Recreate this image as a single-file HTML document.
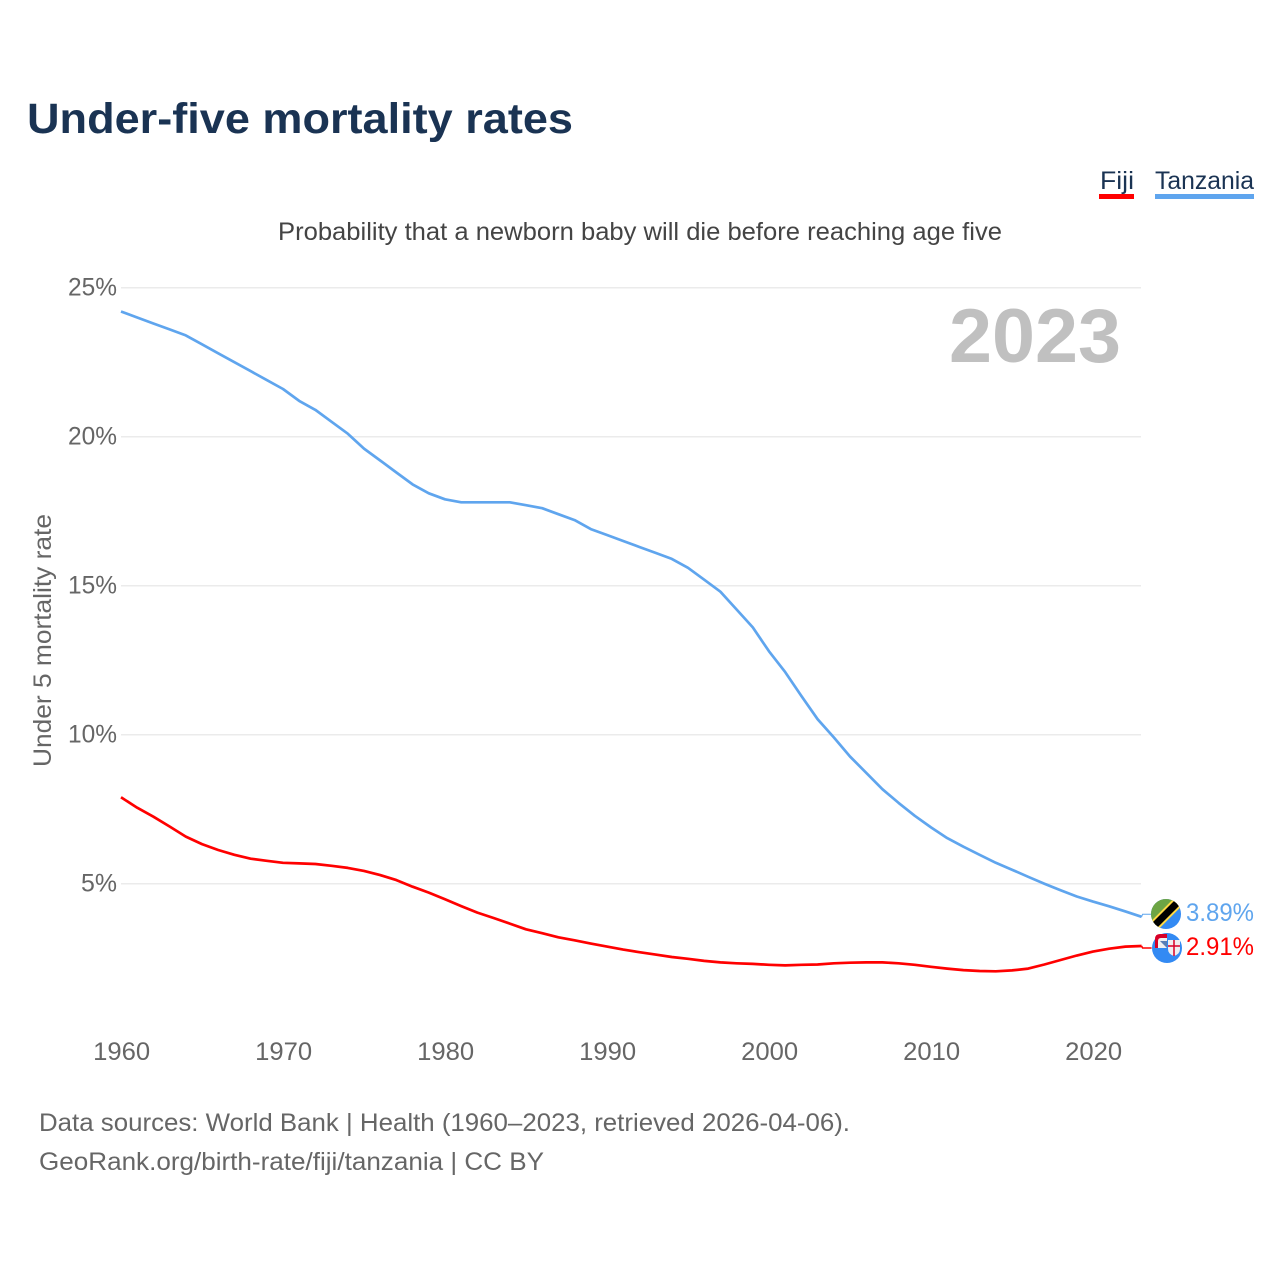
<!DOCTYPE html>
<html lang="en">
<head>
<meta charset="utf-8">
<title>Under-five mortality rates</title>
<style>
  html, body { margin: 0; padding: 0; background: #fff; }
  svg { display: block; font-family: "Liberation Sans", sans-serif; }
</style>
</head>
<body>
<svg id="chart" xmlns="http://www.w3.org/2000/svg" width="1280" height="1280" viewBox="0 0 1280 1280">
  <defs>
    <clipPath id="clip-tz"><circle cx="1166" cy="914" r="15"></circle></clipPath>
    <clipPath id="clip-fj"><circle cx="1167" cy="948" r="15"></circle></clipPath>
  </defs>
  <rect width="1280" height="1280" fill="#fff"></rect>

  <text x="27" y="133" font-size="43" font-weight="700" fill="#1a3353" textLength="546" lengthAdjust="spacingAndGlyphs">Under-five mortality rates</text>

  <g>
    <g>
      <text x="1100" y="189" font-size="25" fill="#1a3353" textLength="34" lengthAdjust="spacingAndGlyphs">Fiji</text>
      <rect x="1099" y="194" width="35" height="5" fill="#ff0000"></rect>
    </g>
    <g>
      <text x="1155" y="189" font-size="25" fill="#1a3353" textLength="99" lengthAdjust="spacingAndGlyphs">Tanzania</text>
      <rect x="1155" y="194" width="99" height="5" fill="#5fa5ee"></rect>
    </g>
  </g>

  <text x="278" y="240" font-size="25" fill="#444" textLength="724" lengthAdjust="spacingAndGlyphs">Probability that a newborn baby will die before reaching age five</text>

  <g id="grid"></g>
  <g id="ytick-labels"></g>
  <g id="xtick-labels"></g>

  <text transform="translate(51 767) rotate(-90)" x="0" y="0" font-size="25" fill="#666" textLength="253" lengthAdjust="spacingAndGlyphs">Under 5 mortality rate</text>

  <text x="949" y="362" font-size="76" font-weight="700" fill="#c0c0c0" textLength="172" lengthAdjust="spacingAndGlyphs">2023</text>

  <g id="series"></g>

  <g clip-path="url(#clip-tz)">
    <rect x="1150" y="898" width="32" height="32" fill="#338af3"></rect>
    <polygon points="1150,898 1182,898 1150,930" fill="#6da544"></polygon>
    <line x1="1152" y1="928" x2="1180" y2="900" stroke="#ffda44" stroke-width="11"></line>
    <line x1="1152" y1="928" x2="1180" y2="900" stroke="#000" stroke-width="7"></line>
  </g>

  <g>
    <circle cx="1167" cy="948" r="15" fill="#338af3"></circle>
    <path d="M1155 948v-9q0-5 5-5h7v14z" fill="#d80027"></path>
    <path d="M1158 948v-7q0-3 3-3h6v10z" fill="#f0f0f0"></path>
    <path d="M1160 941l7 7v-7z" fill="#5b7fb5"></path>
    <path d="M1168 940h12v9q0 5-6 7q-6-2-6-7z" fill="#f0f0f0"></path>
    <path d="M1174 940v16M1168 946h12" stroke="#d80027" stroke-width="1.500" fill="none"></path>
  </g>

  <g id="end-labels"></g>

  <text x="39" y="1131" font-size="25" fill="#666" textLength="811" lengthAdjust="spacingAndGlyphs">Data sources: World Bank | Health (1960–2023, retrieved 2026-04-06).</text>
  <text x="39" y="1170" font-size="25" fill="#666" textLength="505" lengthAdjust="spacingAndGlyphs">GeoRank.org/birth-rate/fiji/tanzania | CC BY</text>
</svg>

<script>
const firstYear = 1960;
const xTickYears = [1960, 1970, 1980, 1990, 2000, 2010, 2020];
const yTickValues = [5, 10, 15, 20, 25];
const tanzaniaValues = [
  24.2, 24.0, 23.8, 23.6, 23.4, 23.1, 22.8, 22.5, 22.2, 21.9,
  21.6, 21.2, 20.9, 20.5, 20.1, 19.6, 19.2, 18.8, 18.4, 18.1,
  17.9, 17.8, 17.8, 17.8, 17.8, 17.7, 17.6, 17.4, 17.2, 16.9,
  16.7, 16.5, 16.3, 16.1, 15.9, 15.6, 15.2, 14.8, 14.2, 13.6,
  12.8, 12.1, 11.3, 10.52, 9.91, 9.27, 8.72, 8.17, 7.71, 7.28,
  6.89, 6.53, 6.24, 5.97, 5.7, 5.47, 5.23, 5.0, 4.78, 4.57,
  4.4, 4.24, 4.07, 3.89
];
const fijiValues = [
  7.9, 7.55, 7.25, 6.92, 6.58, 6.33, 6.13, 5.97, 5.84, 5.77,
  5.7, 5.68, 5.66, 5.6, 5.53, 5.43, 5.29, 5.12, 4.9, 4.7,
  4.48, 4.25, 4.03, 3.85, 3.66, 3.47, 3.34, 3.2, 3.1, 2.99,
  2.89, 2.79, 2.7, 2.62, 2.54, 2.48, 2.41, 2.36, 2.33, 2.31,
  2.28, 2.26, 2.28, 2.29, 2.33, 2.35, 2.36, 2.36, 2.33, 2.28,
  2.21, 2.15, 2.1, 2.07, 2.06, 2.09, 2.15, 2.29, 2.44, 2.59,
  2.72, 2.82, 2.89, 2.91
];

const SVG_NS = 'http://www.w3.org/2000/svg';
const xScale = year => 121 + (year - firstYear) * 16.2;
const yScale = value => 883.7 + (5 - value) * 29.8;

const grid = document.getElementById('grid');
const yLabels = document.getElementById('ytick-labels');
yTickValues.forEach(v => {
  const line = document.createElementNS(SVG_NS, 'line');
  
  
  line.setAttribute('x1', 121);
  line.setAttribute('x2', 1141);
  line.setAttribute('y1', yScale(v));
  line.setAttribute('y2', yScale(v));
  line.setAttribute('stroke', '#ebebeb');
  line.setAttribute('stroke-width', '1.5');
  grid.appendChild(line);

  const label = document.createElementNS(SVG_NS, 'text');
  
  
  label.setAttribute('x', 117);
  label.setAttribute('y', yScale(v) + 8);
  label.setAttribute('text-anchor', 'end');
  label.setAttribute('font-size', '25');
  label.setAttribute('fill', '#666');
  label.setAttribute('textLength', v < 10 ? 36 : 49);
  label.setAttribute('lengthAdjust', 'spacingAndGlyphs');
  label.textContent = v + '%';
  yLabels.appendChild(label);
});

const xLabels = document.getElementById('xtick-labels');
xTickYears.forEach(y => {
  const label = document.createElementNS(SVG_NS, 'text');
  
  
  label.setAttribute('x', xScale(y) + 0.7);
  label.setAttribute('y', 1060);
  label.setAttribute('text-anchor', 'middle');
  label.setAttribute('font-size', '25');
  label.setAttribute('fill', '#666');
  label.setAttribute('textLength', 57);
  label.setAttribute('lengthAdjust', 'spacingAndGlyphs');
  label.textContent = y;
  xLabels.appendChild(label);
});

function pathFor(values) {
  return values.map((v, i) => (i ? 'L' : 'M') + xScale(firstYear + i).toFixed(1) + ' ' + yScale(v).toFixed(1)).join(' ');
}

const seriesGroup = document.getElementById('series');

const tanzaniaLine = document.createElementNS(SVG_NS, 'path');


tanzaniaLine.setAttribute('d', pathFor(tanzaniaValues));
tanzaniaLine.setAttribute('fill', 'none');
tanzaniaLine.setAttribute('stroke', '#5fa5ee');
tanzaniaLine.setAttribute('stroke-width', '2.7');
tanzaniaLine.setAttribute('stroke-linejoin', 'round');
seriesGroup.appendChild(tanzaniaLine);

const fijiLine = document.createElementNS(SVG_NS, 'path');


fijiLine.setAttribute('d', pathFor(fijiValues));
fijiLine.setAttribute('fill', 'none');
fijiLine.setAttribute('stroke', '#ff0000');
fijiLine.setAttribute('stroke-width', '2.7');
fijiLine.setAttribute('stroke-linejoin', 'round');
seriesGroup.appendChild(fijiLine);

const lastIndex = tanzaniaValues.length - 1;
const endX = xScale(firstYear + lastIndex);

const tanzaniaLeader = document.createElementNS(SVG_NS, 'polyline');


tanzaniaLeader.setAttribute('points', endX + ',' + yScale(tanzaniaValues[lastIndex]) + ' ' + (endX + 1) + ',' + (yScale(tanzaniaValues[lastIndex]) - 2.5) + ' ' + (endX + 10) + ',' + (yScale(tanzaniaValues[lastIndex]) - 2.5));
tanzaniaLeader.setAttribute('fill', 'none');
tanzaniaLeader.setAttribute('stroke', '#5fa5ee');
tanzaniaLeader.setAttribute('stroke-width', '1');
seriesGroup.appendChild(tanzaniaLeader);

const fijiLeader = document.createElementNS(SVG_NS, 'polyline');


fijiLeader.setAttribute('points', endX + ',' + yScale(fijiValues[lastIndex]) + ' ' + (endX + 1) + ',' + (yScale(fijiValues[lastIndex]) + 2) + ' ' + (endX + 10) + ',' + (yScale(fijiValues[lastIndex]) + 2));
fijiLeader.setAttribute('fill', 'none');
fijiLeader.setAttribute('stroke', '#ff0000');
fijiLeader.setAttribute('stroke-width', '1.5');
seriesGroup.appendChild(fijiLeader);

const endLabels = document.getElementById('end-labels');

const tanzaniaEnd = document.createElementNS(SVG_NS, 'text');


tanzaniaEnd.setAttribute('x', 1186);
tanzaniaEnd.setAttribute('y', 921);
tanzaniaEnd.setAttribute('font-size', '25');
tanzaniaEnd.setAttribute('fill', '#5fa5ee');
tanzaniaEnd.setAttribute('textLength', 68);
tanzaniaEnd.setAttribute('lengthAdjust', 'spacingAndGlyphs');
tanzaniaEnd.textContent = tanzaniaValues[lastIndex].toFixed(2) + '%';
endLabels.appendChild(tanzaniaEnd);

const fijiEnd = document.createElementNS(SVG_NS, 'text');


fijiEnd.setAttribute('x', 1186);
fijiEnd.setAttribute('y', 955);
fijiEnd.setAttribute('font-size', '25');
fijiEnd.setAttribute('fill', '#ff0000');
fijiEnd.setAttribute('textLength', 68);
fijiEnd.setAttribute('lengthAdjust', 'spacingAndGlyphs');
fijiEnd.textContent = fijiValues[lastIndex].toFixed(2) + '%';
endLabels.appendChild(fijiEnd);
</script>
</body>
</html>
